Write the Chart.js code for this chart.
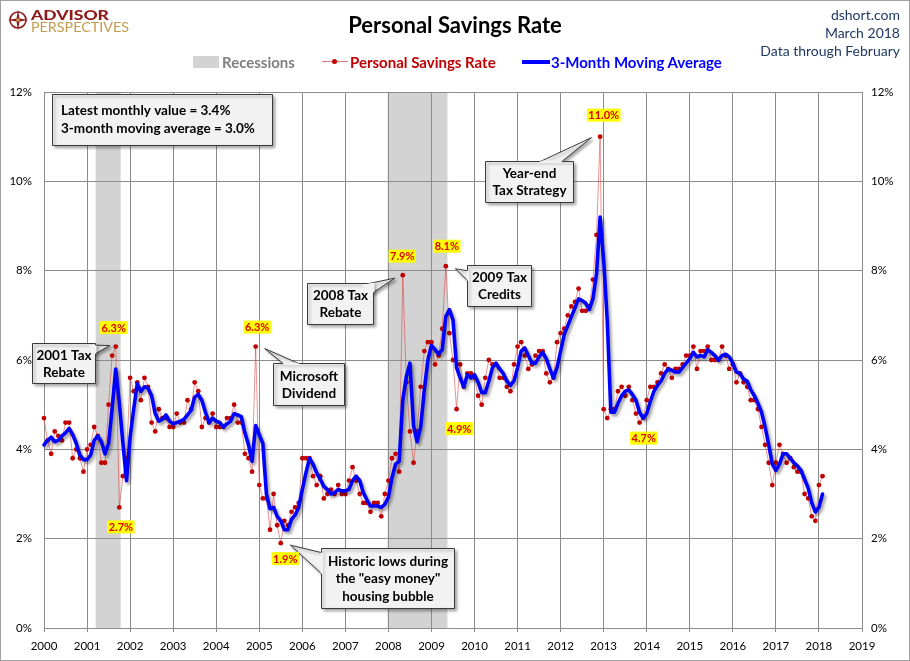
<!DOCTYPE html>
<html>
<head>
<meta charset="utf-8">
<title>Personal Savings Rate</title>
<script src="https://cdn.jsdelivr.net/npm/chart.js@4.4.1/dist/chart.umd.min.js"></script>
<style>
  html, body { margin:0; padding:0; background:#fff; }
  #wrap { position:relative; width:910px; height:661px; overflow:hidden; background:#fff; font-family: Lato, "Open Sans", sans-serif; }
  #chart { position:absolute; left:0; top:0; }
  .abs { position:absolute; white-space:nowrap; }
  #frame { position:absolute; left:0; top:0; width:908px; height:659px; border:1px solid #a0a0a0; pointer-events:none; }
  #title { left:0; width:910px; top:11px; text-align:center; font-weight:700; font-size:22px; line-height:28px; color:#000; }
  .src { right:10px; font-size:14px; line-height:18px; color:#1f3864; text-align:right; }
  .leg { top:54px; font-size:15px; font-weight:700; line-height:17px; }
  .logo { transform-origin:0 0; line-height:13px; }
</style>
</head>
<body>
<div id="wrap">
  <canvas id="chart" width="910" height="661"></canvas>

  <svg class="abs" style="left:7px;top:9px" width="22" height="22" viewBox="0 0 22 22">
    <circle cx="11" cy="11" r="8" fill="none" stroke="#8e1b1b" stroke-width="1.6"/>
    <polygon points="11,0.5 12.5,9.5 21.5,11 12.5,12.5 11,21.5 9.5,12.5 0.5,11 9.5,9.5" fill="#8e1b1b"/>
    <circle cx="11" cy="11" r="1.8" fill="#c9a24d"/>
  </svg>
  <div class="abs logo" id="logo1" style="left:31px;top:8px;font-size:14px;font-weight:900;color:#8e1b1b;">ADVISOR</div>
  <div class="abs logo" id="logo2" style="left:31px;top:20px;font-size:14px;font-weight:400;color:#c39b4c;">PERSPECTIVES</div>

  <div class="abs" id="title">Personal Savings Rate</div>

  <div class="abs src" style="top:6px">dshort.com</div>
  <div class="abs src" style="top:24px">March 2018</div>
  <div class="abs src" style="top:42px">Data through February</div>

  <div class="abs" style="left:193px;top:56px;width:26px;height:12px;background:#d3d3d3"></div>
  <div class="abs leg" style="left:222px;color:#7f7f7f">Recessions</div>
  <div class="abs" style="left:322px;top:61px;width:26px;height:1px;background:#e07a7a"></div>
  <div class="abs" style="left:332px;top:59px;width:5px;height:5px;border-radius:50%;background:#c00000"></div>
  <div class="abs leg" style="left:350px;color:#c00000">Personal Savings Rate</div>
  <div class="abs" style="left:522px;top:60px;width:28px;height:4px;background:#0000ff"></div>
  <div class="abs leg" style="left:551px;color:#0000ff">3-Month Moving Average</div>

  <div id="frame"></div>
</div>

<script>
// ---------------- DATA ----------------
const startYear = 2000;   // first observation: January 2000, monthly through February 2018

const savingsRate = [
  4.7, 4.2, 3.9, 4.4, 4.3, 4.2, 4.6, 4.6, 3.8, 4.0, 3.8, 3.5,   // 2000
  4.0, 4.1, 4.5, 4.3, 3.7, 3.7, 5.0, 6.1, 6.3, 2.7, 3.4, 3.8,   // 2001
  5.6, 5.3, 5.5, 5.1, 5.6, 5.4, 4.6, 4.4, 4.9, 4.7, 4.7, 4.5,   // 2002
  4.5, 4.8, 4.6, 4.6, 5.1, 4.9, 5.5, 5.3, 4.5, 4.7, 4.6, 4.8,   // 2003
  4.5, 4.5, 4.5, 4.7, 4.7, 5.0, 4.6, 4.6, 3.9, 3.8, 3.5, 6.3,   // 2004
  3.2, 2.9, 2.9, 2.2, 3.0, 2.3, 1.9, 2.4, 2.3, 2.6, 2.7, 2.8,   // 2005
  3.8, 3.8, 3.8, 3.4, 3.2, 3.4, 2.9, 3.0, 3.1, 3.0, 3.2, 3.0,   // 2006
  3.0, 3.3, 3.6, 3.3, 3.0, 2.8, 2.8, 2.6, 2.8, 2.8, 2.5, 3.0,   // 2007
  3.3, 3.8, 3.9, 3.5, 7.9, 5.5, 4.4, 3.7, 4.4, 5.4, 6.2, 6.4,   // 2008
  6.4, 5.9, 6.1, 6.7, 8.1, 6.6, 6.0, 4.9, 5.9, 5.4, 5.7, 5.7,   // 2009
  5.6, 5.2, 5.0, 5.6, 6.0, 5.9, 5.9, 5.6, 5.6, 5.4, 5.3, 5.9,   // 2010
  6.3, 6.4, 6.1, 5.8, 5.9, 6.1, 6.2, 6.2, 5.7, 5.5, 5.6, 6.4,   // 2011
  6.6, 6.7, 7.0, 7.2, 7.3, 7.6, 7.1, 7.1, 7.2, 7.8, 8.8, 11.0,  // 2012
  4.9, 4.7, 4.9, 4.9, 5.3, 5.4, 5.2, 5.4, 5.1, 4.8, 4.6, 4.7,   // 2013
  5.1, 5.4, 5.4, 5.5, 5.7, 5.9, 5.8, 5.6, 5.8, 5.8, 5.9, 6.1,   // 2014
  6.1, 6.3, 5.8, 6.2, 6.2, 6.3, 6.0, 6.0, 6.0, 6.3, 6.1, 5.8,   // 2015
  5.9, 5.5, 5.7, 5.5, 5.4, 5.1, 5.1, 4.9, 4.5, 4.1, 3.7, 3.2,   // 2016
  3.7, 4.1, 3.9, 3.7, 3.8, 3.6, 3.5, 3.5, 3.0, 2.9, 2.5, 2.4,   // 2017
  3.2, 3.4                                                      // 2018
];

const movingAverage = [
  4.10, 4.20, 4.27, 4.17, 4.20, 4.30, 4.37, 4.47, 4.33, 4.13, 3.87, 3.77,   // 2000
  3.77, 3.87, 4.20, 4.30, 4.17, 3.90, 4.13, 4.93, 5.80, 5.03, 4.13, 3.30,   // 2001
  4.27, 4.90, 5.47, 5.30, 5.40, 5.37, 5.20, 4.80, 4.63, 4.67, 4.77, 4.63,   // 2002
  4.57, 4.60, 4.63, 4.67, 4.77, 4.87, 5.17, 5.23, 5.10, 4.83, 4.60, 4.70,   // 2003
  4.63, 4.60, 4.50, 4.57, 4.63, 4.80, 4.77, 4.73, 4.37, 4.10, 3.73, 4.53,   // 2004
  4.33, 4.13, 3.00, 2.67, 2.70, 2.50, 2.40, 2.20, 2.20, 2.43, 2.53, 2.70,   // 2005
  3.10, 3.47, 3.80, 3.67, 3.47, 3.33, 3.17, 3.10, 3.00, 3.03, 3.10, 3.07,   // 2006
  3.07, 3.10, 3.30, 3.40, 3.30, 3.03, 2.87, 2.73, 2.73, 2.73, 2.70, 2.77,   // 2007
  2.93, 3.37, 3.67, 3.73, 5.10, 5.63, 5.93, 4.53, 4.17, 4.50, 5.33, 6.00,   // 2008
  6.33, 6.23, 6.13, 6.23, 6.97, 7.13, 6.90, 5.83, 5.60, 5.40, 5.67, 5.60,   // 2009
  5.67, 5.50, 5.27, 5.27, 5.53, 5.83, 5.93, 5.80, 5.70, 5.53, 5.43, 5.53,   // 2010
  5.83, 6.20, 6.27, 6.10, 5.93, 5.93, 6.07, 6.17, 6.03, 5.80, 5.60, 5.83,   // 2011
  6.20, 6.57, 6.77, 6.97, 7.17, 7.37, 7.33, 7.27, 7.13, 7.37, 7.93, 9.20,   // 2012
  8.23, 6.87, 4.83, 4.83, 5.03, 5.20, 5.30, 5.33, 5.23, 5.10, 4.83, 4.70,   // 2013
  4.80, 5.07, 5.30, 5.43, 5.53, 5.70, 5.80, 5.77, 5.73, 5.73, 5.83, 5.93,   // 2014
  6.03, 6.17, 6.07, 6.10, 6.07, 6.23, 6.17, 6.10, 6.00, 6.10, 6.13, 6.07,   // 2015
  5.93, 5.73, 5.70, 5.57, 5.53, 5.33, 5.20, 5.03, 4.83, 4.50, 4.10, 3.67,   // 2016
  3.53, 3.67, 3.90, 3.90, 3.80, 3.70, 3.63, 3.53, 3.33, 3.13, 2.80, 2.60,   // 2017
  2.70, 3.00                                                                // 2018
];

const yTickValues = [0, 2, 4, 6, 8, 10, 12];
const xTickYears = [2000, 2001, 2002, 2003, 2004, 2005, 2006, 2007, 2008, 2009,
                    2010, 2011, 2012, 2013, 2014, 2015, 2016, 2017, 2018, 2019];

// recession periods (fractional years)
const recessionStart = [2001.20, 2007.98];
const recessionEnd   = [2001.78, 2009.37];

// x value (fractional year) of each monthly observation
const monthX = savingsRate.map((_, i) => startYear + i / 12);

// ---------------- ANNOTATIONS (anchored on data) ----------------
const valueLabels = [
  { target: 20,  dx: -2,   dy: -19 },
  { target: 21,  dx: 1.5,  dy: 19.5 },
  { target: 59,  dx: 1.5,  dy: -19.5 },
  { target: 66,  dx: 4.5,  dy: 15.5 },
  { target: 100, dx: -0.5, dy: -19 },
  { target: 112, dx: 1,    dy: -20 },
  { target: 115, dx: 2.6,  dy: 19.5 },
  { target: 155, dx: 3.6,  dy: -21.5 },
  { target: 167, dx: 0.6,  dy: 20 }
];

const callouts = [
  { lines: ['2001 Tax', 'Rebate'], cx: 2000.453, cy: 5.933, w: 63, h: 40, target: 20, tip: [-6, -1], base: [[57, 2], [61, 12]] },
  { lines: ['Microsoft', 'Dividend'], cx: 2006.144, cy: 5.463, w: 71, h: 42, target: 59, tip: [9, 2], base: [[12, 2], [29, 2]] },
  { lines: ['2008 Tax', 'Rebate'], cx: 2006.875, cy: 7.265, w: 66, h: 41, target: 100, tip: [-8, 3], base: [[55, 2], [64, 11]] },
  { lines: ['2009 Tax', 'Credits'], cx: 2010.568, cy: 7.668, w: 64, h: 41, target: 112, tip: [9.6, 2.6], base: [[2, 6], [2, 17]] },
  { lines: ['Year-end', 'Tax Strategy'], cx: 2011.265, cy: 9.996, w: 88, h: 41, target: 155, tip: [-8.7, 1], base: [[52, 2], [75, 2]] },
  { lines: ['Historic lows during', 'the "easy money"', 'housing bubble'], cx: 2007.978, cy: 1.119, w: 133, h: 60, target: 66, tip: [9.6, 2], base: [[2, 5], [2, 27]] }
];

const last = savingsRate.length - 1;
const infoBox = {
  lines: ['Latest monthly value = ' + savingsRate[last].toFixed(1) + '%',
          '3-month moving average = ' + movingAverage[last].toFixed(1) + '%'],
  cx: 2002.741, cy: 11.384, w: 220, h: 51
};

// ---------------- DRAWING ----------------
const FONT = 'Lato, "Open Sans", sans-serif';

function pointPx(chart, i) {
  return { x: chart.scales.x.getPixelForValue(monthX[i]), y: chart.scales.y.getPixelForValue(savingsRate[i]) };
}

function drawBox(ctx, bx, by, w, h, tip, base) {
  ctx.save();
  ctx.fillStyle = '#f2f2f2';
  ctx.strokeStyle = '#3a3a3a';
  ctx.lineWidth = 1;
  ctx.shadowColor = 'rgba(0,0,0,0.35)';
  ctx.shadowBlur = 3;
  ctx.shadowOffsetX = 2;
  ctx.shadowOffsetY = 2;
  const tri = () => {
    ctx.beginPath();
    ctx.moveTo(bx + base[0][0], by + base[0][1]);
    ctx.lineTo(tip.x, tip.y);
    ctx.lineTo(bx + base[1][0], by + base[1][1]);
    ctx.closePath();
  };
  if (tip) { tri(); ctx.fill(); ctx.stroke(); }
  ctx.beginPath();
  ctx.rect(bx + 0.5, by + 0.5, w, h);
  ctx.fill();
  ctx.stroke();
  ctx.shadowColor = 'transparent';
  if (tip) {
    ctx.save();
    ctx.beginPath();
    ctx.rect(bx - 0.5, by - 0.5, w + 2, h + 2);
    ctx.clip();
    tri();
    ctx.fill();
    ctx.restore();
  }
  ctx.restore();
}

const overlayPlugin = {
  id: 'overlay',
  beforeDraw(chart) {
    const { ctx, chartArea: a, scales: { x } } = chart;
    ctx.save();
    ctx.fillStyle = '#ffffff';
    ctx.fillRect(0, 0, chart.width, chart.height);
    ctx.fillStyle = '#d3d3d3';
    recessionStart.forEach((s, k) => {
      const x0 = x.getPixelForValue(s), x1 = x.getPixelForValue(recessionEnd[k]);
      ctx.fillRect(x0, a.top, x1 - x0, a.bottom - a.top);
    });
    ctx.restore();
  },
  beforeDatasetDraw(chart, args) {
    if (chart.data.datasets[args.index].dropShadow) {
      const c = chart.ctx;
      c.save();
      c.shadowColor = 'rgba(0,0,0,0.38)';
      c.shadowBlur = 3;
      c.shadowOffsetX = 2;
      c.shadowOffsetY = 2.5;
    }
  },
  afterDatasetDraw(chart, args) {
    if (chart.data.datasets[args.index].dropShadow) chart.ctx.restore();
  },
  afterDraw(chart) {
    const ctx = chart.ctx;
    const sx = chart.scales.x, sy = chart.scales.y;

    // info box
    {
      const cx = sx.getPixelForValue(infoBox.cx), cy = sy.getPixelForValue(infoBox.cy);
      const bx = Math.round(cx - infoBox.w / 2), by = Math.round(cy - infoBox.h / 2);
      drawBox(ctx, bx, by, infoBox.w, infoBox.h, null, null);
      ctx.save();
      ctx.fillStyle = '#000';
      ctx.font = 'bold 13.5px ' + FONT;
      ctx.textAlign = 'left';
      ctx.textBaseline = 'middle';
      infoBox.lines.forEach((t, k) => ctx.fillText(t, bx + 9, by + infoBox.h / 2 + (k - 0.5) * 18));
      ctx.restore();
    }

    // callouts
    callouts.forEach(c => {
      const cx = sx.getPixelForValue(c.cx), cy = sy.getPixelForValue(c.cy);
      const bx = Math.round(cx - c.w / 2), by = Math.round(cy - c.h / 2);
      const p = pointPx(chart, c.target);
      const tip = { x: p.x + c.tip[0], y: p.y + c.tip[1] };
      drawBox(ctx, bx, by, c.w, c.h, tip, c.base);
      ctx.save();
      ctx.fillStyle = '#000';
      ctx.font = 'bold 13.5px ' + FONT;
      ctx.textAlign = 'center';
      ctx.textBaseline = 'middle';
      const n = c.lines.length;
      const lh = n === 3 ? 17.5 : 17;
      c.lines.forEach((t, k) => ctx.fillText(t, bx + c.w / 2 + 0.5, by + c.h / 2 + 1 + (k - (n - 1) / 2) * lh));
      ctx.restore();
    });

    // value labels
    ctx.save();
    ctx.font = 'bold 11px ' + FONT;
    ctx.textAlign = 'center';
    ctx.textBaseline = 'middle';
    valueLabels.forEach(l => {
      const p = pointPx(chart, l.target);
      const t = savingsRate[l.target].toFixed(1) + '%';
      const x = p.x + l.dx, y = p.y + l.dy;
      const w = ctx.measureText(t).width + 3;
      ctx.fillStyle = '#ffff00';
      ctx.fillRect(x - w / 2, y - 6.5, w, 13);
      ctx.fillStyle = '#e00000';
      ctx.fillText(t, x, y + 0.5);
    });
    ctx.restore();
  }
};

const GRID = '#8c8c8c';

new Chart(document.getElementById('chart'), {
  type: 'line',
  data: {
    datasets: [
      {
        label: '3-Month Moving Average',
        data: movingAverage.map((v, i) => ({ x: monthX[i], y: v })),
        borderColor: '#0000ff',
        borderWidth: 3.6,
        pointRadius: 0,
        tension: 0,
        borderJoinStyle: 'round',
        borderCapStyle: 'round',
        fill: false,
        clip: false,
        dropShadow: true,
        order: 1
      },
      {
        label: 'Personal Savings Rate',
        data: savingsRate.map((v, i) => ({ x: monthX[i], y: v })),
        borderColor: 'rgba(214, 60, 60, 0.55)',
        borderWidth: 1,
        pointRadius: 2.4,
        pointBackgroundColor: '#c00000',
        pointBorderWidth: 0,
        tension: 0,
        fill: false,
        clip: false,
        order: 2
      }
    ]
  },
  options: {
    responsive: false,
    animation: false,
    events: [],
    layout: { padding: { top: 92, left: 0, right: 0, bottom: 0 } },
    plugins: { legend: { display: false }, tooltip: { enabled: false }, title: { display: false } },
    scales: {
      x: {
        type: 'linear',
        min: xTickYears[0],
        max: xTickYears[xTickYears.length - 1],
        afterBuildTicks: s => { s.ticks = xTickYears.map(v => ({ value: v })); },
        afterFit: s => { s.height = 33; },
        ticks: { autoSkip: false, maxRotation: 0, padding: 7, color: '#000', font: { family: FONT, size: 11.5 }, callback: v => String(v) },
        grid: { color: GRID, lineWidth: 1, tickLength: 4, tickColor: GRID },
        border: { color: GRID }
      },
      y: {
        position: 'left',
        min: 0, max: 12,
        afterBuildTicks: s => { s.ticks = yTickValues.map(v => ({ value: v })); },
        afterFit: s => { s.width = 44; },
        ticks: { padding: 12, color: '#000', font: { family: FONT, size: 11.5 }, callback: v => v + '%' },
        grid: { color: GRID, lineWidth: 1, drawTicks: false },
        border: { color: GRID }
      },
      y2: {
        position: 'right',
        min: 0, max: 12,
        afterBuildTicks: s => { s.ticks = yTickValues.map(v => ({ value: v })); },
        afterFit: s => { s.width = 48; },
        ticks: { padding: 9, color: '#000', font: { family: FONT, size: 11.5 }, callback: v => v + '%' },
        grid: { drawOnChartArea: false, drawTicks: false },
        border: { color: GRID }
      }
    }
  },
  plugins: [overlayPlugin]
});

// fit logo words to the reference widths
function fitWidth(id, target) {
  const el = document.getElementById(id);
  const w = el.getBoundingClientRect().width;
  if (w > 0) el.style.transform = 'scaleX(' + (target / w) + ')';
}
fitWidth('logo1', 78);
fitWidth('logo2', 98);
</script>
</body>
</html>
